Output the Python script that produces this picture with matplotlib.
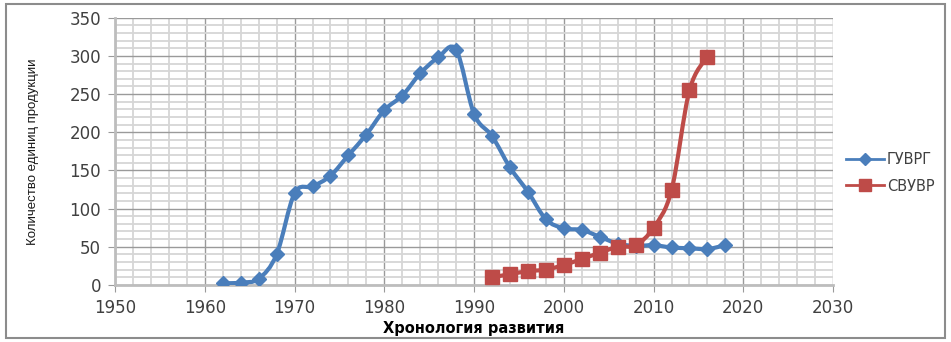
import numpy as np
import matplotlib.pyplot as plt
from matplotlib.path import Path
from matplotlib.patches import PathPatch, Rectangle
from matplotlib.lines import Line2D
from matplotlib.ticker import MultipleLocator

years_gvrg = [1962, 1964, 1966, 1968, 1970, 1972, 1974, 1976, 1978, 1980, 1982, 1984, 1986, 1988,
              1990, 1992, 1994, 1996, 1998, 2000, 2002, 2004, 2006, 2008, 2010, 2012, 2014, 2016, 2018]
vals_gvrg = [2, 3, 8, 40, 120, 129, 143, 170, 197, 229, 248, 277, 298, 308,
             224, 195, 154, 122, 86, 74, 72, 63, 54, 51, 52, 49, 48, 47, 52]

years_svuvr = [1992, 1994, 1996, 1998, 2000, 2002, 2004, 2006, 2008, 2010, 2012, 2014, 2016]
vals_svuvr = [10, 14, 18, 20, 26, 34, 42, 50, 52, 75, 124, 255, 299]

names = ['ГУВРГ', 'СВУВР']
colors = ['#4A7EBB', '#BE4B48']


def smooth_path(x, y):
    # excel-like smoothed line: cubic bezier segments through the points
    p = np.column_stack([x, y]).astype(float)
    n = len(p)
    verts = [p[0]]
    codes = [Path.MOVETO]
    for i in range(n - 1):
        p0 = p[i - 1] if i > 0 else p[i]
        p3 = p[i + 2] if i + 2 < n else p[i + 1]
        c1 = p[i] + (p[i + 1] - p0) / 6.0
        c2 = p[i + 1] - (p3 - p[i]) / 6.0
        verts += [c1, c2, p[i + 1]]
        codes += [Path.CURVE4] * 3
    return Path(verts, codes)


fig = plt.figure(figsize=(9.51, 3.42), dpi=100)
ax = fig.add_axes([0.121, 0.167, 0.755, 0.781])

ax.set_xlim(1950, 2030)
ax.set_ylim(0, 350)
ax.xaxis.set_major_locator(MultipleLocator(10))
ax.xaxis.set_minor_locator(MultipleLocator(2))
ax.yaxis.set_major_locator(MultipleLocator(50))
ax.yaxis.set_minor_locator(MultipleLocator(10))
ax.grid(which='major', color='#9a9a9a', lw=1.0)
ax.grid(which='minor', color='#d6d6d6', lw=1.3)
ax.set_axisbelow(True)
for s in ['top', 'right']:
    ax.spines[s].set_visible(False)
ax.spines['left'].set_color('#bdbdbd')
ax.spines['bottom'].set_color('#bdbdbd')
ax.spines['left'].set_linewidth(2)
ax.spines['bottom'].set_linewidth(2)
ax.tick_params(which='major', length=5, color='#9a9a9a', labelsize=12, labelcolor='#404040', pad=5)
ax.tick_params(which='minor', length=0)

handles = []
for xs, ys, c, m, ms, name in [(years_gvrg, vals_gvrg, colors[0], 'D', 7.5, names[0]),
                               (years_svuvr, vals_svuvr, colors[1], 's', 9.5, names[1])]:
    ax.add_patch(PathPatch(smooth_path(xs, ys), fill=False, edgecolor=c, lw=3, zorder=3))
    ax.plot(xs, ys, ls='none', marker=m, ms=ms, color=c, zorder=4)
    handles.append(Line2D([], [], color=c, lw=2, marker=m, ms=ms - 1.5, label=name))

ax.set_xlabel('Хронология развития', fontsize=10.5, fontweight='bold', labelpad=3)
ax.set_ylabel('Количество единиц продукции', fontsize=9.5, color='#1a1a1a',
              family=['Liberation Sans Narrow', 'Liberation Sans', 'DejaVu Sans'], labelpad=22)

fig.legend(handles=handles, loc='center left', bbox_to_anchor=(0.876, 0.495), frameon=False,
           fontsize=10.5, handlelength=2.6, handletextpad=0.2, labelspacing=0.8, labelcolor='#404040')

fig.patches.append(Rectangle((0.006, 0.012), 0.988, 0.975, transform=fig.transFigure,
                             fill=False, edgecolor='#8c8c8c', lw=1.5))

fig.savefig('out.png', dpi=100)
